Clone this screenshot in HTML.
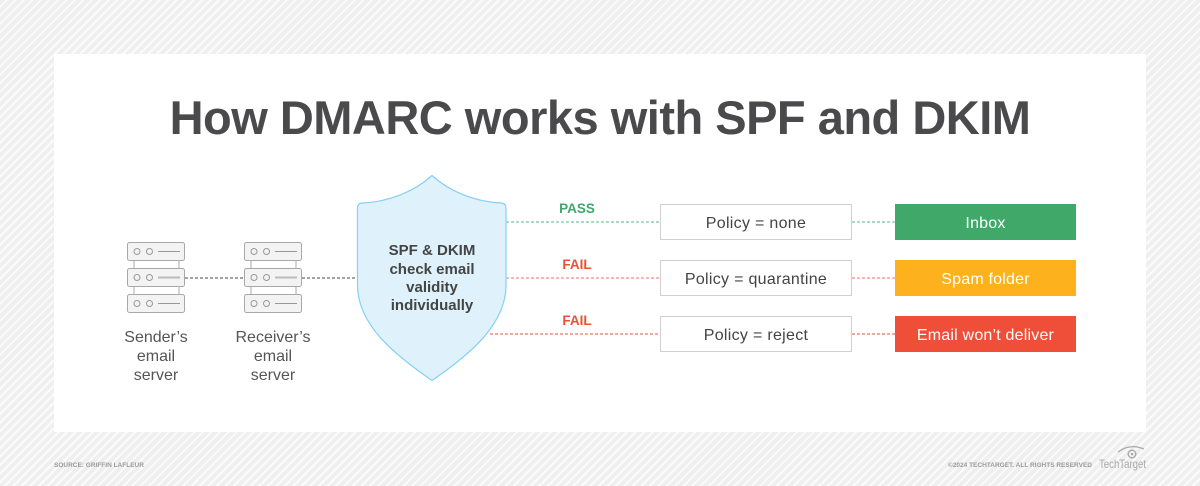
<!DOCTYPE html>
<html>
<head>
<meta charset="utf-8">
<style>
  html,body{margin:0;padding:0;}
  body{width:1200px;height:486px;overflow:hidden;position:relative;
    background:repeating-linear-gradient(135deg,#efefef 0px,#efefef 4px,#fbfbfb 4px,#fbfbfb 6px);
    font-family:"Liberation Sans",sans-serif;}
  .panel{position:absolute;left:54px;top:54px;width:1092px;height:378px;background:#fff;}
  svg{position:absolute;left:0;top:0;}
</style>
</head>
<body>
<div class="panel"></div>
<svg width="1200" height="486" viewBox="0 0 1200 486" xmlns="http://www.w3.org/2000/svg" font-family="Liberation Sans, sans-serif">
  <!-- Title -->
  <text x="600" y="134" text-anchor="middle" font-size="47" font-weight="bold" fill="#4a4a4d" letter-spacing="-0.5">How DMARC works with SPF and DKIM</text>

  <!-- connectors servers -->
  <line x1="185" y1="278" x2="244" y2="278" stroke="#444" stroke-width="1" stroke-dasharray="3,2"/>
  <line x1="302" y1="278" x2="358" y2="278" stroke="#444" stroke-width="1" stroke-dasharray="3,2"/>

  <!-- Server icon template -->
  <defs>
    <g id="srv">
      <line x1="7" y1="18" x2="7" y2="26" stroke="#aaa" stroke-width="1"/>
      <line x1="52" y1="18" x2="52" y2="26" stroke="#aaa" stroke-width="1"/>
      <line x1="7" y1="45" x2="7" y2="52" stroke="#aaa" stroke-width="1"/>
      <line x1="52" y1="45" x2="52" y2="52" stroke="#aaa" stroke-width="1"/>
      <rect x="0.5" y="0.5" width="57" height="18" rx="2" fill="#f3f3f3" stroke="#a8a8a8"/>
      <rect x="0.5" y="26.5" width="57" height="18" rx="2" fill="#f3f3f3" stroke="#a8a8a8"/>
      <rect x="0.5" y="52.5" width="57" height="18" rx="2" fill="#f3f3f3" stroke="#a8a8a8"/>
      <circle cx="10" cy="9.5" r="3" fill="none" stroke="#999"/>
      <circle cx="22.5" cy="9.5" r="3" fill="none" stroke="#999"/>
      <line x1="31" y1="9.5" x2="53" y2="9.5" stroke="#999"/>
      <circle cx="10" cy="35.5" r="3" fill="none" stroke="#999"/>
      <circle cx="22.5" cy="35.5" r="3" fill="none" stroke="#999"/>
      <line x1="31" y1="35.5" x2="53" y2="35.5" stroke="#bbb" stroke-width="2"/>
      <circle cx="10" cy="61.5" r="3" fill="none" stroke="#999"/>
      <circle cx="22.5" cy="61.5" r="3" fill="none" stroke="#999"/>
      <line x1="31" y1="61.5" x2="53" y2="61.5" stroke="#999"/>
    </g>
  </defs>
  <use href="#srv" x="127" y="242"/>
  <use href="#srv" x="244" y="242"/>

  <g font-size="16" fill="#555" text-anchor="middle">
    <text x="156" y="342">Sender’s</text>
    <text x="156" y="361">email</text>
    <text x="156" y="380">server</text>
    <text x="273" y="342">Receiver’s</text>
    <text x="273" y="361">email</text>
    <text x="273" y="380">server</text>
  </g>

  <!-- Result dashed lines -->
  <line x1="506" y1="222" x2="660" y2="222" stroke="#8fd1a8" stroke-width="1.5" stroke-dasharray="3,2"/>
  <line x1="506" y1="278" x2="660" y2="278" stroke="#f5a096" stroke-width="1.5" stroke-dasharray="3,2"/>
  <line x1="490" y1="334" x2="660" y2="334" stroke="#f08a7c" stroke-width="1.5" stroke-dasharray="3,2"/>
  <line x1="852" y1="222" x2="895" y2="222" stroke="#8fd1a8" stroke-width="1.5" stroke-dasharray="3,2"/>
  <line x1="852" y1="278" x2="895" y2="278" stroke="#f5a096" stroke-width="1.5" stroke-dasharray="3,2"/>
  <line x1="852" y1="334" x2="895" y2="334" stroke="#f08a7c" stroke-width="1.5" stroke-dasharray="3,2"/>

  <!-- Shield -->
  <path d="M432,175.5 C414,192 388,202 362,203 Q357.5,203.5 357.5,208 L357.5,285 C357.5,325 395,355 432,380.5 C469,355 506,325 506,285 L506,208 Q506,203.5 501.5,203 C476,202 450,192 432,175.5 Z" fill="#dff2fc" stroke="#86d0f2" stroke-width="1.2"/>
  <g font-size="15" font-weight="bold" fill="#444" text-anchor="middle">
    <text x="432" y="255">SPF &amp; DKIM</text>
    <text x="432" y="274">check email</text>
    <text x="432" y="292">validity</text>
    <text x="432" y="310">individually</text>
  </g>

  <!-- PASS/FAIL labels -->
  <g font-size="13.5" font-weight="bold" text-anchor="middle">
    <text x="577" y="213" fill="#3fa86a">PASS</text>
    <text x="577" y="269" fill="#ef4f38">FAIL</text>
    <text x="577" y="325" fill="#ef4f38">FAIL</text>
  </g>

  <!-- Policy boxes -->
  <g fill="#fff" stroke="#d0d0d0" stroke-width="1">
    <rect x="660.5" y="204.5" width="191" height="35"/>
    <rect x="660.5" y="260.5" width="191" height="35"/>
    <rect x="660.5" y="316.5" width="191" height="35"/>
  </g>
  <g font-size="16" fill="#444" text-anchor="middle" letter-spacing="0.3">
    <text x="756" y="228">Policy = none</text>
    <text x="756" y="284">Policy = quarantine</text>
    <text x="756" y="340">Policy = reject</text>
  </g>

  <!-- Result boxes -->
  <rect x="895" y="204" width="181" height="36" fill="#40a96a"/>
  <rect x="895" y="260" width="181" height="36" fill="#fdb11d"/>
  <rect x="895" y="316" width="181" height="36" fill="#ef4f38"/>
  <g font-size="16" fill="#fff" text-anchor="middle" letter-spacing="0.2">
    <text x="985.5" y="228">Inbox</text>
    <text x="985.5" y="284">Spam folder</text>
    <text x="985.5" y="340">Email won’t deliver</text>
  </g>

  <!-- Footer -->
  <text x="54" y="467" font-size="6.5" font-weight="bold" fill="#9a9a9a">SOURCE: GRIFFIN LAFLEUR</text>
  <text x="1092" y="467" font-size="6.5" font-weight="bold" fill="#9a9a9a" text-anchor="end">©2024 TECHTARGET. ALL RIGHTS RESERVED</text>
  <text x="1099" y="468" font-size="12" fill="#a8a8a8" textLength="47" lengthAdjust="spacingAndGlyphs">TechTarget</text>
  <!-- eye logo -->
  <path d="M1118,452 Q1130,443 1144,449" fill="none" stroke="#a8a8a8" stroke-width="1.2"/>
  <circle cx="1132" cy="454" r="3.8" fill="none" stroke="#a8a8a8" stroke-width="1.4"/>
  <circle cx="1132" cy="454" r="1.3" fill="#a8a8a8"/>
</svg>
</body>
</html>
